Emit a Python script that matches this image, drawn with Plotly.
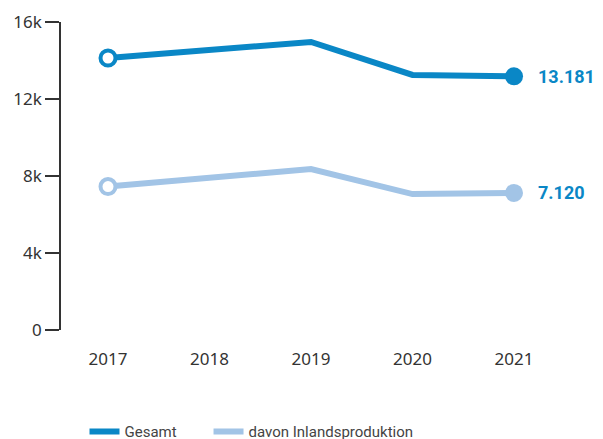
import plotly.graph_objects as go

years = [2017, 2018, 2019, 2020, 2021]
gesamt = [14130, 14560, 14960, 13250, 13181]
inland = [7450, 7900, 8360, 7060, 7120]
series_names = ["Gesamt", "davon Inlandsproduktion"]
y_ticks = [0, 4000, 8000, 12000, 16000]
y_ticklabels = ["0", "4k", "8k", "12k", "16k"]
end_labels = ["13.181", "7.120"]

c_dark = "#0a87c6"
c_light = "#a2c4e6"

fig = go.Figure()
for vals, name, col, lg in [(gesamt, series_names[0], c_dark, "legend"),
                            (inland, series_names[1], c_light, "legend2")]:
    fig.add_trace(go.Scatter(x=years, y=vals, mode="lines", name=name, legend=lg,
                             line=dict(color=col, width=6), showlegend=True))
    fig.add_trace(go.Scatter(x=[years[0]], y=[vals[0]], mode="markers", showlegend=False,
                             marker=dict(size=15, color="white", line=dict(color=col, width=4))))
    fig.add_trace(go.Scatter(x=[years[-1]], y=[vals[-1]], mode="markers", showlegend=False,
                             marker=dict(size=18, color=col)))

for vals, txt in [(gesamt, end_labels[0]), (inland, end_labels[1])]:
    fig.add_annotation(x=years[-1], y=vals[-1], text="<b>" + txt + "</b>", showarrow=False,
                       xanchor="left", yanchor="middle", xshift=22,
                       font=dict(family="Roboto", size=18, color=c_dark))

legend_style = dict(orientation="h", y=-0.33, xanchor="left", yanchor="middle",
                    font=dict(family="Roboto", size=15, color="#444444"), itemwidth=30)

fig.update_layout(
    width=603, height=439,
    margin=dict(l=61, r=3, t=22, b=109, autoexpand=False),
    paper_bgcolor="white", plot_bgcolor="white",
    font=dict(family="Noto Sans", color="#333333"),
    xaxis=dict(range=[2016.537, 2021.847], tickvals=years, ticktext=[str(y) for y in years],
               showgrid=False, zeroline=False, showline=False, ticks="", automargin=False,
               tickfont=dict(size=17, color="#333333"), ticklabelstandoff=17),
    yaxis=dict(range=[0, 16000], tickvals=y_ticks, ticktext=y_ticklabels, automargin=False,
               showgrid=False, zeroline=False, showline=True, linecolor="#333333", linewidth=1.5,
               ticks="outside", ticklen=14, tickcolor="#333333", tickwidth=1.5,
               tickfont=dict(size=17, color="#333333")),
    legend=dict(x=0.0436, **legend_style),
    legend2=dict(x=0.2737, **legend_style),
    showlegend=True,
)

fig.write_html("out.html", config={"displayModeBar": False},
               post_script="document.body.style.margin='0';document.body.style.overflow='hidden';")
